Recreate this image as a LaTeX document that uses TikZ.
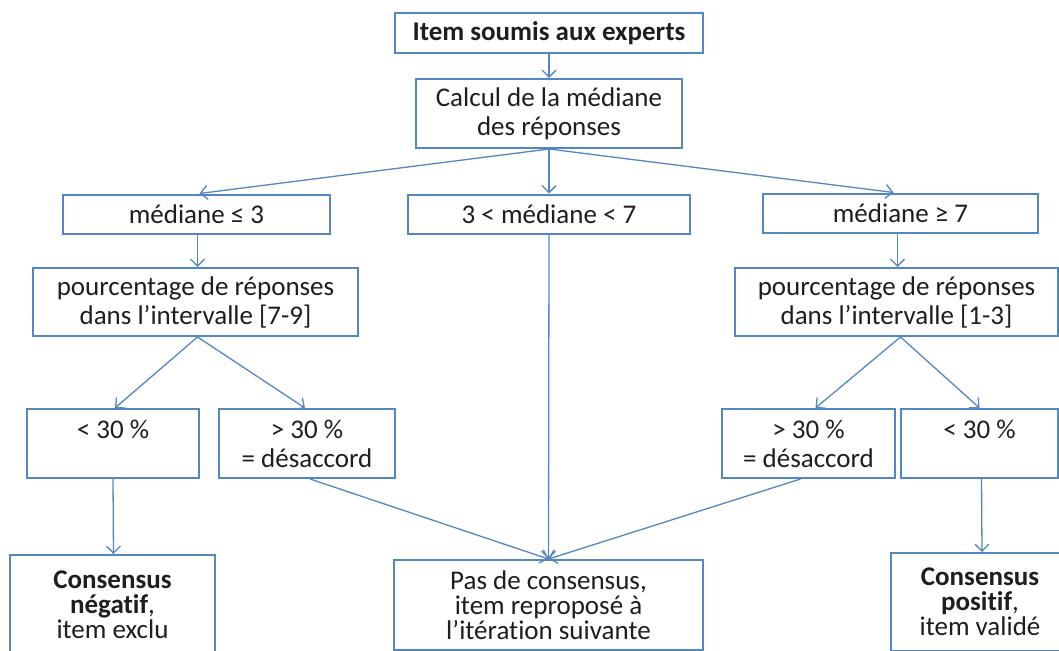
\documentclass[tikz,border=0pt]{standalone}
\usepackage{fontspec}
\setmainfont{Carlito}[Ligatures=CommonOff]
\usetikzlibrary{arrows.meta}
\definecolor{bl}{RGB}{84,134,195}
\definecolor{tx}{RGB}{30,30,30}
\tikzset{
  box/.style={draw=bl, line width=2pt, align=center, inner sep=0pt, text=tx,
    font=\fontsize{27}{29}\selectfont},
  boldbox/.style={box, font=\fontsize{27}{29}\selectfont\bfseries},
  lowbox/.style={box, anchor=north, font=\fontsize{27}{25}\selectfont},
  arr/.style={draw=bl, line width=1.3pt,
    -{Straight Barb[length=7pt,width=14pt,line width=1.3pt]}},
}
\begin{document}
\begin{tikzpicture}[x=1pt,y=-1pt]
\clip (0,0) rectangle (1059,650);
\fill[white] (0,0) rectangle (1059,650);

\node[boldbox, minimum width=308pt, minimum height=40pt] (top) at (549,33) {Item soumis aux experts};
\node[box, minimum width=266pt, minimum height=69pt] (calc) at (549,113.5) {Calcul de la médiane\\des réponses};

\node[box, minimum width=267pt, minimum height=39pt] (m3) at (196.5,214) {médiane ≤ 3};
\node[box, minimum width=282pt, minimum height=39pt] (mm) at (549,214) {3 < médiane < 7};
\node[box, minimum width=275pt, minimum height=39pt] (m7) at (900.5,213) {médiane ≥ 7};

\node[box, minimum width=325pt, minimum height=68pt] (pl) at (195.5,302) {pourcentage de réponses\\dans l’intervalle [7-9]};
\node[box, minimum width=323pt, minimum height=68pt] (pr) at (896.5,302) {pourcentage de réponses\\dans l’intervalle [1-3]};

\node[box, minimum width=172pt, minimum height=69pt] (la) at (113,443.5) {< 30 \%\\\mbox{}};
\node[box, minimum width=176pt, minimum height=69pt] (lb) at (307,443.5) {> 30 \%\\= désaccord};
\node[box, minimum width=173pt, minimum height=69pt] (ra) at (808.5,443.5) {> 30 \%\\= désaccord};
\node[box, minimum width=157pt, minimum height=69pt] (rb) at (979.5,443.5) {< 30 \%\\\mbox{}};

\node[lowbox, minimum width=205pt, minimum height=100pt] (neg) at (112.5,554) {\textbf{Consensus}\\\textbf{négatif},\\item exclu};
\node[lowbox, minimum width=309pt, minimum height=90pt] (pas) at (548.5,559) {Pas de consensus,\\item reproposé à\\l’itération suivante};
\node[lowbox, minimum width=178pt, minimum height=98pt] (pos) at (980,552) {\textbf{Consensus}\\\textbf{positif},\\item validé};

\draw[arr] (top.south) -- (calc.north);
\draw[arr] (calc.south) -- ([xshift=3pt]m3.north);
\draw[arr] (calc.south) -- (mm.north);
\draw[arr] (calc.south) -- ([xshift=-7pt]m7.north);
\draw[arr] ([xshift=1pt]m3.south) -- ([xshift=2pt]pl.north);
\draw[arr] ([xshift=-3pt]m7.south) -- ([xshift=1pt]pr.north);
\draw[arr] ([xshift=2pt]pl.south) -- ([xshift=2pt]la.north);
\draw[arr] ([xshift=2pt]pl.south) -- ([xshift=-2pt]lb.north);
\draw[arr] ([xshift=4pt]pr.south) -- ([xshift=7pt]ra.north);
\draw[arr] ([xshift=4pt]pr.south) -- ([xshift=0pt]rb.north);
\draw[arr] (la.south) -- ([xshift=1pt]neg.north);
\draw[arr] ([xshift=2pt]rb.south) -- ([xshift=2pt]pos.north);
\draw[arr] (mm.south) -- (pas.north);
\draw[arr] ([xshift=3pt]lb.south) -- (pas.north);
\draw[arr] ([xshift=-8pt]ra.south) -- (pas.north);
\end{tikzpicture}
\end{document}
